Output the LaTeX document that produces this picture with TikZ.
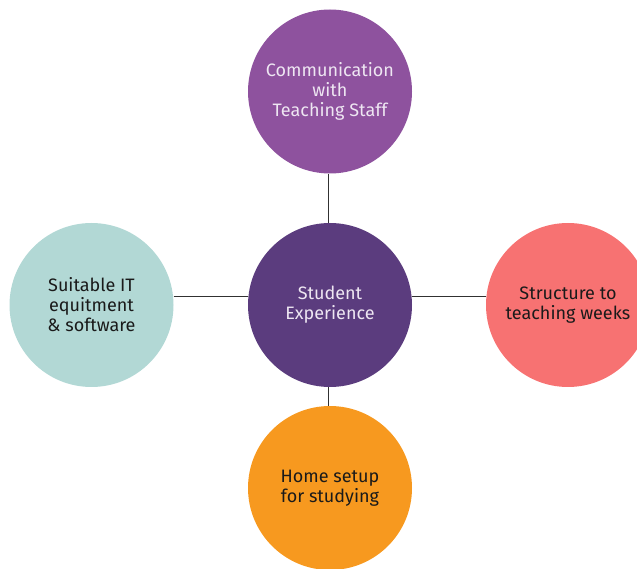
\documentclass[tikz,border=0pt]{standalone}
\usepackage{fontspec}
\setmainfont{Fira Sans}[Scale=1]
\usetikzlibrary{calc}
\definecolor{hubpurple}{HTML}{5B3C7E}
\definecolor{staffpurple}{HTML}{8E529E}
\definecolor{itteal}{HTML}{B2D8D5}
\definecolor{weekred}{HTML}{F77272}
\definecolor{homeorange}{HTML}{F7991F}
\definecolor{lighttext}{HTML}{EEE6F2}
\definecolor{darktext}{HTML}{1A1A1A}
\begin{document}
\begin{tikzpicture}[x=1pt,y=1pt,
  bubble/.style={circle,minimum size=164pt,inner sep=0pt,align=center,
    font=\fontsize{18}{20}\selectfont},
  link/.style={draw=darktext!90,line width=0.9pt}]
\useasboundingbox (0,0) rectangle (637,568);
\clip (0,0) rectangle (637,568);
\node[bubble,fill=hubpurple,text=lighttext] (hub) at (330,263) {Student\\Experience};
\node[bubble,fill=staffpurple,text=lighttext] (staff) at (330,476.5) {Communication\\with\\Teaching Staff};
\node[bubble,fill=itteal,text=darktext] (it) at (91.5,263) {Suitable IT\\equitment\\\& software};
\node[bubble,fill=weekred,text=darktext] (weeks) at (568,263) {Structure to\\teaching weeks};
\node[bubble,fill=homeorange,text=darktext] (home) at (330,80) {Home setup\\for studying};
\draw[link] ([xshift=-2pt]staff.south) -- ([xshift=-2pt]hub.north);
\draw[link] ([xshift=-2pt]hub.south) -- ([xshift=-2pt]home.north);
\draw[link] ([yshift=9pt]it.east) -- ([yshift=9pt]hub.west);
\draw[link] ([yshift=9pt]hub.east) -- ([yshift=9pt]weeks.west);
\end{tikzpicture}
\end{document}
